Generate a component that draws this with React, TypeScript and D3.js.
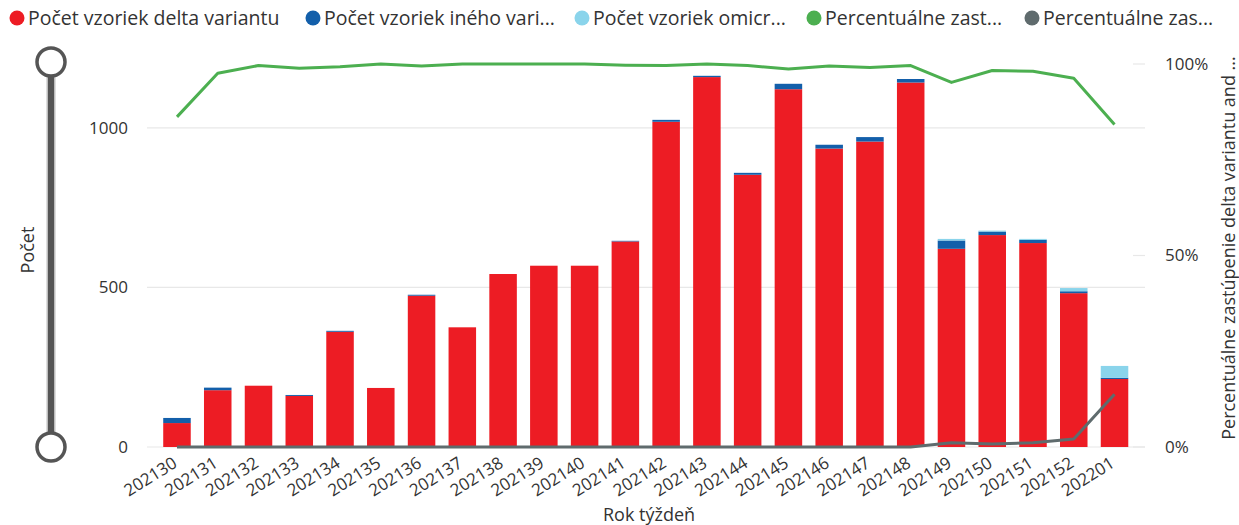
import React from 'react';
import * as d3 from 'd3';

const weeks = ['202130','202131','202132','202133','202134','202135','202136','202137','202138','202139','202140','202141','202142','202143','202144','202145','202146','202147','202148','202149','202150','202151','202152','202201'];
const deltaCount = [75, 178, 192, 160, 361, 185, 474, 375, 542, 568, 568, 644, 1019, 1159, 853, 1121, 935, 957, 1142, 621, 664, 639, 482, 213];
const otherCount = [16, 8, 0, 3, 3, 0, 3, 0, 0, 0, 0, 2, 6, 4, 6, 17, 12, 14, 11, 26, 11, 10, 6, 4];
const omicronCount = [0, 0, 0, 0, 0, 0, 0, 0, 0, 0, 0, 0, 0, 0, 0, 0, 0, 0, 0, 5, 3, 3, 10, 37];
const deltaPct = [0.862, 0.976, 0.996, 0.989, 0.993, 1.0, 0.995, 1.0, 1.0, 1.0, 1.0, 0.997, 0.996, 1.0, 0.996, 0.987, 0.995, 0.991, 0.996, 0.952, 0.983, 0.981, 0.963, 0.842];
const omicronPct = [0, 0, 0, 0, 0, 0, 0, 0, 0, 0, 0, 0, 0, 0, 0, 0, 0, 0, 0, 0.011, 0.008, 0.011, 0.021, 0.138];
const leftTicks = [0, 500, 1000];
const rightTicks = [0, 0.5, 1];
const legendLabels = ['Počet vzoriek delta variantu', 'Počet vzoriek iného vari...', 'Počet vzoriek omicr...', 'Percentuálne zast...', 'Percentuálne zas...'];
const colors = ['#ED1C24', '#135FAA', '#8AD4EB', '#4CAF50', '#5F6B6D'];

const FONT = "'Segoe UI', 'Open Sans', sans-serif";
const TXT = '#333333';

export default function App() {
  const W = 1239, H = 525;
  const x = d3.scaleBand<string>().domain(weeks).range([156.6, 1134.9]).paddingInner(0.325).paddingOuter(0.1625);
  const yL = d3.scaleLinear().domain([0, 1200]).range([447, 64]);
  const yR = d3.scaleLinear().domain([0, 1]).range([447, 64]);
  const bw = x.bandwidth();

  const stacked = weeks.map((w, i) => {
    const a = deltaCount[i], b = otherCount[i], c = omicronCount[i];
    return [
      { key: 0, y0: 0, y1: a },
      { key: 1, y0: a, y1: a + b },
      { key: 2, y0: a + b, y1: a + b + c },
    ];
  });

  const line = d3.line<number>()
    .x((_, i) => (x(weeks[i]) as number) + bw / 2)
    .y(d => yR(d));

  const legendX = [17, 313, 582, 814, 1032];

  return (
    <svg width={W} height={H} style={{ position: 'absolute', left: 0, top: 0, background: '#fff' }} fontFamily={FONT}>
      {/* legend */}
      {legendLabels.map((t, i) => (
        <g key={t}>
          <circle cx={legendX[i]} cy={18} r={7.5} fill={colors[i]} />
          <text x={legendX[i] + 11} y={18} dy="0.35em" fontSize={19.5} fill={TXT}>{t}</text>
        </g>
      ))}

      {/* slider */}
      <line x1={51} x2={51} y1={62} y2={447} stroke="#bdbdbd" strokeWidth={9} />
      <line x1={51} x2={51} y1={62} y2={447} stroke="#555555" strokeWidth={6} />
      <circle cx={51} cy={62} r={14} fill="#fff" stroke="#555555" strokeWidth={3.5} />
      <circle cx={51} cy={447} r={14} fill="#fff" stroke="#555555" strokeWidth={3.5} />

      {/* left axis title */}
      <text transform="translate(28,250) rotate(-90)" textAnchor="middle" dy="0.35em" fontSize={18} fill={TXT}>Počet</text>

      {/* gridlines */}
      {leftTicks.map(t => (
        <line key={'g' + t} x1={147} x2={1145} y1={yL(t)} y2={yL(t)} stroke="#e8e8e8" strokeWidth={1.2} />
      ))}
      {rightTicks.map(t => (
        <line key={'r' + t} x1={1133} x2={1145} y1={yR(t)} y2={yR(t)} stroke="#e8e8e8" strokeWidth={1.2} />
      ))}

      {/* left tick labels */}
      {leftTicks.map(t => (
        <text key={'lt' + t} x={128} y={yL(t)} dy="0.35em" textAnchor="end" fontSize={17} fill={TXT}>{t}</text>
      ))}
      {/* right tick labels */}
      {rightTicks.map(t => (
        <text key={'rt' + t} x={1165} y={yR(t)} dy="0.35em" textAnchor="start" fontSize={17} fill={TXT}>{d3.format('.0%')(t)}</text>
      ))}

      {/* right axis title */}
      <text transform="translate(1229,248) rotate(-90)" textAnchor="middle" dy="0.35em" fontSize={18} fill={TXT}>Percentuálne zastúpenie delta variantu and ...</text>

      {/* bars */}
      {stacked.map((segs, i) => (
        <g key={weeks[i]}>
          {segs.filter(s => s.y1 > s.y0).map(s => (
            <rect key={s.key} x={x(weeks[i])} width={bw} y={yL(s.y1)} height={yL(s.y0) - yL(s.y1)} fill={colors[s.key]} />
          ))}
        </g>
      ))}

      {/* lines */}
      <path d={line(deltaPct) || ''} fill="none" stroke={colors[3]} strokeWidth={3} strokeLinejoin="round" />
      <path d={line(omicronPct) || ''} fill="none" stroke={colors[4]} strokeWidth={3} strokeLinejoin="round" />

      {/* x tick labels */}
      {weeks.map(w => {
        const cx = (x(w) as number) + bw / 2;
        return (
          <text key={'x' + w} transform={`translate(${cx - 5},${456}) rotate(-32)`} textAnchor="end" dy="0.7em" fontSize={17} fill={TXT}>{w}</text>
        );
      })}

      {/* x axis title */}
      <text x={649} y={515} textAnchor="middle" dy="0.35em" fontSize={18} fill={TXT}>Rok týždeň</text>
    </svg>
  );
}
